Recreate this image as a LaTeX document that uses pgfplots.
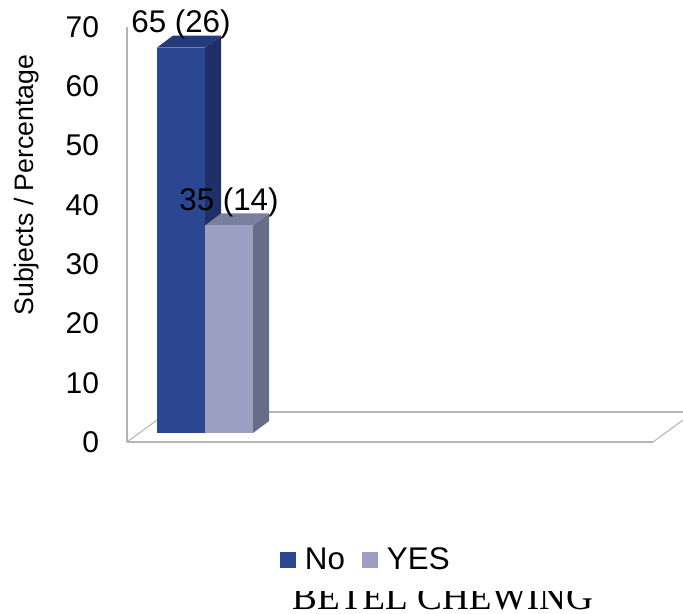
\documentclass[border=0pt]{standalone}
\usepackage{pgfplots}
\pgfplotsset{compat=1.18}
\usepackage{fontspec}
\setmainfont{Liberation Sans}
\newfontfamily\headfont{Liberation Serif}
\definecolor{noFront}{HTML}{2B4792}
\definecolor{noSide}{HTML}{1F3068}
\definecolor{noTop}{HTML}{233A7C}
\definecolor{yesFront}{HTML}{9BA0C3}
\definecolor{yesSide}{HTML}{676C88}
\definecolor{yesTop}{HTML}{7A7FA0}
\definecolor{frameGrey}{HTML}{B4B4B4}
\begin{document}
\begin{tikzpicture}
\useasboundingbox (0,0) rectangle (512.25pt,460.5pt);

% Wall and floor edge carrying the value scale
\begin{axis}[
  at={(95.25pt,129pt)}, anchor=south west,
  scale only axis, width=394.5pt, height=311.25pt,
  xmin=0, xmax=1, ymin=0, ymax=70,
  axis x line=bottom, axis y line=left,
  axis line style={frameGrey, line width=0.8pt, -},
  xtick=\empty, ytick={0,10,...,70}, major tick length=0pt,
  /pgf/number format/assume math mode=true,
  yticklabel style={font=\fontsize{22.5}{22.5}\selectfont, anchor=east, xshift=-17.5pt},
  ylabel={Subjects / Percentage},
  every axis y label/.style={at={(axis description cs:-0.19,0.619)}, rotate=90, anchor=center,
    font=\fontsize{20}{20}\selectfont},
]
\end{axis}

% Bars in a 3-D look; x runs in canvas units, y in data values
\begin{axis}[
  at={(0pt,0pt)}, anchor=south west,
  scale only axis, width=512.25pt, height=460.5pt,
  xmin=0, xmax=683, ymin=-30.52, ymax=73.02,
  axis lines=none, clip=false,
  legend columns=2,
  legend style={at={(axis cs:276,-21.4)}, anchor=west, draw=none, fill=none,
    font=\fontsize{23.5}{23.5}\selectfont,
    /tikz/every even column/.append style={column sep=11pt}},
  every node near coord/.append style={anchor=center, yshift=17.5pt, font=\fontsize{23.5}{23.5}\selectfont, text=black},
]
% floor outline
\addplot[forget plot, frameGrey, line width=0.8pt] coordinates {(127,-1.52)(157,2.19)};
\addplot[forget plot, frameGrey, line width=0.8pt] coordinates {(157,3.54)(683,3.54)};
\addplot[forget plot, frameGrey, line width=0.8pt] coordinates {(653,-1.52)(683,2.19)};

% "No" bar
\addplot[forget plot, fill=noSide, draw=none] coordinates {(205,0)(221,2.02)(221,67.02)(205,65)} --cycle;
\addplot[forget plot, fill=noTop, draw=none] coordinates {(157,65)(173,67.02)(221,67.02)(205,65)} --cycle;
\addplot[ybar, bar shift=0pt, bar width=48, fill=noFront, draw=none,
  legend image code/.code={\path[draw=none, fill=none] (0pt,0pt) rectangle (16.5pt,1pt);\path[fill=noFront, draw=none] (0pt,-6pt) rectangle (12pt,6pt);},
  nodes near coords, point meta=explicit symbolic]
  coordinates {(181,65) [65 (26)]};
\addlegendentry{No}

% "YES" bar
\addplot[forget plot, fill=yesSide, draw=none] coordinates {(253,0)(269,2.02)(269,37.02)(253,35)} --cycle;
\addplot[forget plot, fill=yesTop, draw=none] coordinates {(205,35)(221,37.02)(269,37.02)(253,35)} --cycle;
\addplot[ybar, bar shift=0pt, bar width=48, fill=yesFront, draw=none,
  legend image code/.code={\path[draw=none, fill=none] (0pt,0pt) rectangle (16.5pt,1pt);\path[fill=yesFront, draw=none] (0pt,-6pt) rectangle (12pt,6pt);},
  nodes near coords, point meta=explicit symbolic]
  coordinates {(229,35) [35 (14)]};
\addlegendentry{YES}
\end{axis}

% Caption band, cut off by the strip above it
\begin{scope}
\clip (0,0) rectangle (512.25pt,16.5pt);
\node[anchor=base, inner sep=0pt, font=\headfont\fontsize{27.9}{27.9}\selectfont] at (331.9pt,3pt) {BETEL CHEWING};
\end{scope}
\end{tikzpicture}
\end{document}
